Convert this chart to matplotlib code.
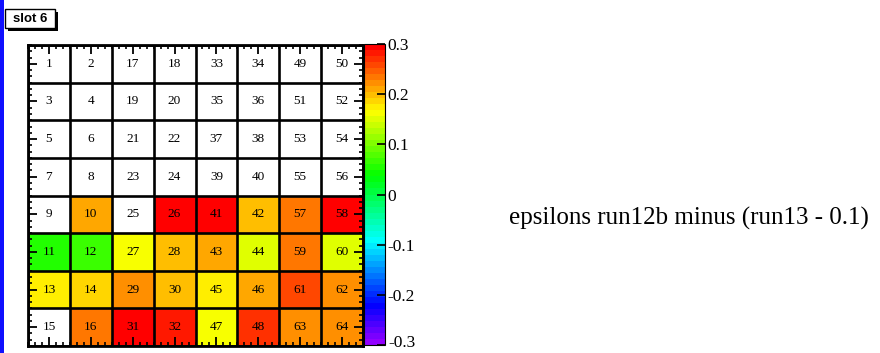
import colorsys

import numpy as np
import matplotlib
matplotlib.use('Agg')
from matplotlib import pyplot as plt
from matplotlib.colors import ListedColormap, Normalize
from matplotlib.patches import Rectangle

# channel numbers, top row first
channels = [
    [1, 2, 17, 18, 33, 34, 49, 50],
    [3, 4, 19, 20, 35, 36, 51, 52],
    [5, 6, 21, 22, 37, 38, 53, 54],
    [7, 8, 23, 24, 39, 40, 55, 56],
    [9, 10, 25, 26, 41, 42, 57, 58],
    [11, 12, 27, 28, 43, 44, 59, 60],
    [13, 14, 29, 30, 45, 46, 61, 62],
    [15, 16, 31, 32, 47, 48, 63, 64],
]

# epsilon differences per channel (nan = empty bin)
nan = np.nan
eps_diff = [
    [nan, nan, nan, nan, nan, nan, nan, nan],
    [nan, nan, nan, nan, nan, nan, nan, nan],
    [nan, nan, nan, nan, nan, nan, nan, nan],
    [nan, nan, nan, nan, nan, nan, nan, nan],
    [nan, 0.210, nan, 0.294, 0.294, 0.200, 0.234, 0.294],
    [0.050, 0.060, 0.162, 0.200, 0.205, 0.150, 0.234, 0.150],
    [0.174, 0.186, 0.222, 0.200, 0.170, 0.210, 0.258, 0.222],
    [nan, 0.234, 0.294, 0.282, 0.165, 0.270, 0.222, 0.222],
]

z_min, z_max = -0.3, 0.3
cbar_ticks = [-0.3, -0.2, -0.1, 0.0, 0.1, 0.2, 0.3]
cbar_labels = ['-0.3', '-0.2', '-0.1', '0', '0.1', '0.2', '0.3']
title = 'epsilons run12b minus (run13 - 0.1)'
pad_label = 'slot 6'

# "pretty" palette: 50 hues from violet down to red
n_col = 50
pal = [colorsys.hls_to_rgb((280 - (i + 1) * 280 / n_col) / 360, 0.5, 1.0)
       for i in range(n_col)]
cmap = ListedColormap(pal)
norm = Normalize(z_min, z_max)

W, H = 880, 353
fig = plt.figure(figsize=(W / 100, H / 100), dpi=100)
fig.patch.set_facecolor('white')

serif = ['Liberation Serif', 'DejaVu Serif']

# main frame
ax = fig.add_axes([28 / W, (H - 346) / H, 335 / W, 301 / H])
Z = np.ma.masked_invalid(np.array(eps_diff))
ny, nx = Z.shape
ax.pcolormesh(np.arange(nx + 1), np.arange(ny + 1), Z, cmap=cmap, norm=norm)
ax.set_xlim(0, nx)
ax.set_ylim(ny, 0)

# cell borders
for k in range(nx + 1):
    ax.axvline(k, color='black', lw=1.9)
for k in range(ny + 1):
    ax.axhline(k, color='black', lw=1.9)

for r in range(ny):
    for c in range(nx):
        ax.text(c + 0.5, r + 0.5, str(channels[r][c]), ha='center', va='center',
                fontsize=9.5, family=serif, color='black')

# ticks: major at cell centres, minor every sixth of a cell
ax.set_xticks(np.arange(nx) + 0.5)
ax.set_yticks(np.arange(ny) + 0.5)
ax.set_xticks(np.arange(0, nx + 1e-9, 1 / 6), minor=True)
ax.set_yticks(np.arange(0, ny + 1e-9, 1 / 6), minor=True)
ax.set_xticklabels([])
ax.set_yticklabels([])
ax.tick_params(which='both', direction='in', top=True, right=True, color='black')
ax.tick_params(which='major', length=6.5, width=1.3)
ax.tick_params(which='minor', length=3.2, width=1.2)
for s in ax.spines.values():
    s.set_linewidth(2.0)

# colour scale; the lowest label sits on the canvas edge, so it is
# written separately and nudged up a little
cax = fig.add_axes([364 / W, (H - 345) / H, 21 / W, 301 / H])
sm = plt.cm.ScalarMappable(norm=norm, cmap=cmap)
cb = fig.colorbar(sm, cax=cax, ticks=cbar_ticks)
cb.set_ticklabels([''] + cbar_labels[1:])
cb.outline.set_linewidth(0.8)
cax.tick_params(direction='in', length=6, width=1.2, pad=2, labelsize=12.5)
for lbl in cax.get_yticklabels():
    lbl.set_family(serif)
fig.text(388 / W, 1 - 343 / H, cbar_labels[0], ha='left', va='center',
         fontsize=12.5, family=serif)

# title text on the right
fig.text(509 / W, 1 - 218 / H, title, ha='left', va='center',
         fontsize=18, family=serif)

# pad label box with shadow
fig.patches.append(Rectangle((8 / W, 1 - 31 / H), 50 / W, 19 / H,
                             transform=fig.transFigure, facecolor='black',
                             edgecolor='black', lw=0))
fig.patches.append(Rectangle((5 / W, 1 - 28 / H), 50 / W, 19 / H,
                             transform=fig.transFigure, facecolor='white',
                             edgecolor='black', lw=1.0))
fig.text(30.5 / W, 1 - 18.5 / H, pad_label, ha='center', va='center',
         fontsize=9.5, fontweight='bold', family='Liberation Sans')

# blue strip on the left edge
fig.patches.append(Rectangle((0, 0), 3.5 / W, 1, transform=fig.transFigure,
                             facecolor='#1010ff', edgecolor='none'))

fig.savefig('out.png', dpi=100)
